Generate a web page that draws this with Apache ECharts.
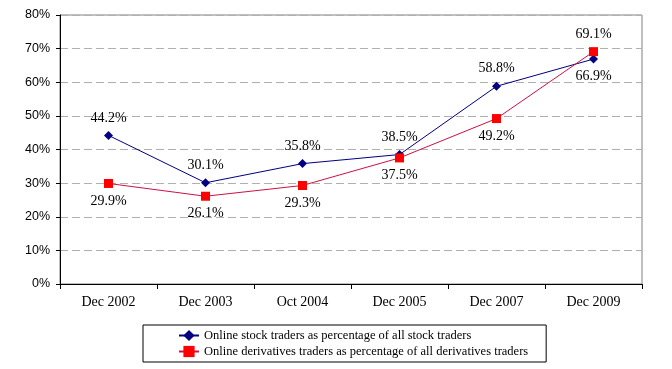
<!DOCTYPE html>
<html>
<head>
<meta charset="utf-8">
<script src="https://cdn.jsdelivr.net/npm/echarts@6/dist/echarts.min.js"></script>
<style>
html,body{margin:0;padding:0;background:#fff;}
#chart{width:672px;height:369px;}
</style>
</head>
<body>
<div id="chart"></div>
<script>
var categories = ['Dec 2002', 'Dec 2003', 'Oct 2004', 'Dec 2005', 'Dec 2007', 'Dec 2009'];
var stockName = 'Online stock traders as percentage of all stock traders';
var derivName = 'Online derivatives traders as percentage of all derivatives traders';
var stockValues = [44.2, 30.1, 35.8, 38.5, 58.8, 66.9];
var derivValues = [29.9, 26.1, 29.3, 37.5, 49.2, 69.1];
var stockLabelPos = ['top', 'top', 'top', 'top', 'top', 'bottom'];
var derivLabelPos = ['bottom', 'bottom', 'bottom', 'bottom', 'bottom', 'top'];

var serif = '"Liberation Serif", "Times New Roman", serif';
var sans = '"Liberation Sans", Arial, sans-serif';

function buildData(vals, pos) {
  return vals.map(function (v, i) {
    return { value: v, label: { position: pos[i] } };
  });
}

var chart = echarts.init(document.getElementById('chart'));
chart.setOption({
  animation: false,
  backgroundColor: '#fff',
  grid: {
    left: 60, right: 30, top: 15, bottom: 85,
    show: true, borderColor: '#808080', borderWidth: 1
  },
  legend: {
    orient: 'vertical',
    left: 143, top: 325,
    padding: [4, 18, 4, 35],
    borderColor: '#000', borderWidth: 1,
    itemWidth: 20, itemHeight: 14, itemGap: 3,
    textStyle: { fontFamily: serif, fontSize: 12.5, color: '#000' },
    data: [stockName, derivName]
  },
  xAxis: {
    type: 'category',
    data: categories,
    boundaryGap: true,
    axisLine: { lineStyle: { color: '#000', width: 1 } },
    axisTick: { show: true, length: 5, lineStyle: { color: '#000' } },
    axisLabel: { fontFamily: serif, fontSize: 14, color: '#000', margin: 11 },
    splitLine: { show: false }
  },
  yAxis: {
    type: 'value',
    min: 0, max: 80, interval: 10,
    axisLine: { show: true, lineStyle: { color: '#000', width: 1 } },
    axisTick: { show: true, length: 4, lineStyle: { color: '#000' } },
    axisLabel: { fontFamily: sans, fontSize: 12.5, color: '#000', margin: 10,
      formatter: function (v) { return v + '%'; } },
    splitLine: { show: true, lineStyle: { color: '#b0b0b0', type: [8, 4], width: 1 } }
  },
  series: [
    {
      name: stockName,
      type: 'line',
      data: buildData(stockValues, stockLabelPos),
      symbol: 'diamond',
      symbolSize: 9,
      itemStyle: { color: '#000080' },
      lineStyle: { color: '#000080', width: 1 },
      label: {
        show: true, distance: 6,
        fontFamily: serif, fontSize: 14, color: '#000',
        formatter: function (p) { return p.value.toFixed(1) + '%'; }
      },
      z: 3
    },
    {
      name: derivName,
      type: 'line',
      data: buildData(derivValues, derivLabelPos),
      symbol: 'rect',
      symbolSize: 9,
      itemStyle: { color: '#ff0000' },
      lineStyle: { color: '#cc1144', width: 1 },
      label: {
        show: true, distance: 6,
        fontFamily: serif, fontSize: 14, color: '#000',
        formatter: function (p) { return p.value.toFixed(1) + '%'; }
      },
      z: 4
    }
  ]
});
</script>
</body>
</html>
